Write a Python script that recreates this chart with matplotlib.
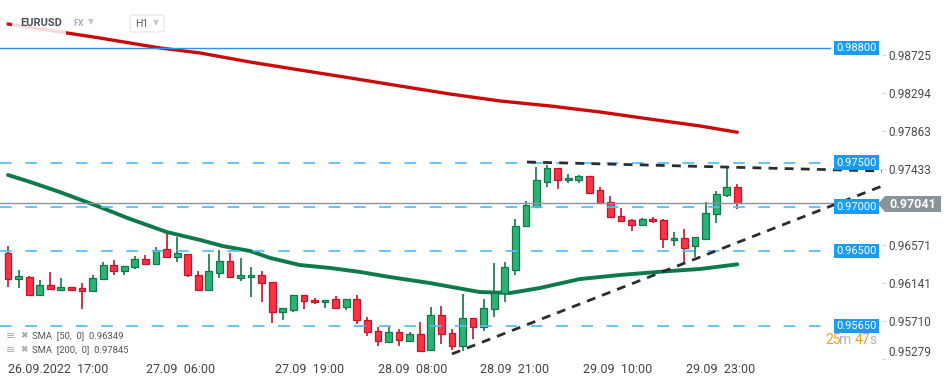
import matplotlib
matplotlib.use('Agg')
import matplotlib.pyplot as plt
import matplotlib.transforms as mtransforms
from matplotlib.patches import Rectangle, Polygon, FancyBboxPatch

plt.rcParams['font.family'] = ['Roboto', 'DejaVu Sans']

# EURUSD H1 candles
opens = [.96474, .96186, .96209, .95998, .96111, .96061, .96088, .96081, .96050, .96186,
         .96341, .96277, .96315, .96406, .96349, .96519, .96428, .96462, .96231, .96061,
         .96254, .96383, .96197, .96202, .96224, .96145, .95805, .95828, .95998, .95941,
         .95919, .95953, .95862, .95953, .95715, .95590, .95474, .95579, .95483, .95556,
         .95381, .95771, .95567, .95427, .95737, .95642, .95839, .96027, .96288, .96780,
         .97002, .97285, .97437, .97301, .97301, .97346, .97188, .97052, .96896, .96851,
         .96791, .96859, .96851, .96621, .96644, .96553, .96632, .96916, .97131, .97222]
highs = [.96556, .96285, .96215, .96171, .96262, .96194, .96092, .96134, .96224, .96375,
         .96398, .96330, .96443, .96451, .96542, .96692, .96662, .96466, .96277, .96466,
         .96511, .96474, .96420, .96315, .96270, .96145, .95851, .95998, .95998, .95964,
         .95941, .95987, .95953, .95998, .95749, .95635, .95635, .95613, .95582, .95692,
         .95865, .95880, .95613, .96009, .95737, .95956, .96360, .96372, .96862, .97066,
         .97455, .97474, .97440, .97372, .97364, .97346, .97225, .97123, .96984, .96859,
         .96870, .96882, .96859, .96712, .96746, .96655, .97052, .97176, .97444, .97256]
lows = [.96095, .96081, .95995, .95995, .96066, .96050, .96043, .95839, .96048, .96179,
        .96228, .96231, .96299, .96347, .96347, .96426, .96375, .96209, .96058, .96058,
        .96197, .96205, .96163, .95982, .95925, .95687, .95718, .95805, .95846, .95896,
        .95857, .95846, .95835, .95676, .95540, .95423, .95472, .95427, .95483, .95355,
        .95378, .95449, .95375, .95370, .95499, .95593, .95755, .95922, .96231, .96780,
        .97002, .97228, .97206, .97274, .97274, .97160, .97040, .96882, .96836, .96730,
        .96791, .96820, .96537, .96560, .96349, .96435, .96632, .96820, .97108, .96979]
closes = [.96179, .96217, .95998, .96111, .96073, .96092, .96061, .96050, .96190, .96341,
          .96277, .96326, .96406, .96349, .96508, .96428, .96474, .96224, .96061, .96270,
          .96383, .96209, .96224, .96224, .96134, .95805, .95851, .95998, .95930, .95919,
          .95941, .95857, .95953, .95715, .95579, .95477, .95579, .95495, .95556, .95367,
          .95771, .95556, .95427, .95737, .95642, .95851, .96020, .96315, .96780, .97018,
          .97301, .97437, .97301, .97324, .97346, .97160, .97040, .96882, .96836, .96791,
          .96859, .96836, .96632, .96644, .96537, .96655, .96927, .97142, .97222, .97041]

# moving averages (candle index, value)
sma50_x = [0, 2.1, 4.9, 8.7, 11.3, 15.0, 18.2, 20.3, 22.9, 24.8, 27.6, 30.5, 33.3, 36.1,
           39.9, 44.6, 47.5, 50.3, 54.1, 57.9, 62.6, 65.5, 69]
sma50_y = [.97361, .97282, .97168, .96998, .96874, .96715, .96624, .96556, .96500, .96421,
           .96341, .96307, .96262, .96205, .96137, .96035, .96024, .96080, .96182, .96228,
           .96273, .96296, .96349]
sma200_x = [0, 5.6, 8.7, 14.4, 18.2, 22.9, 27.6, 32.4, 37.1, 41.8, 46.6, 51.3, 56.0, 60.7, 65.5, 69]
sma200_y = [.99072, .98970, .98913, .98800, .98743, .98641, .98551, .98460, .98369, .98279,
            .98199, .98143, .98075, .97995, .97916, .97845]

# drawn levels and trend lines
levels_dashed = [0.975, 0.970, 0.965, 0.9565]
level_solid = 0.988
last_price = 0.97041
trend_low_x, trend_low_y = [42.0, 82.7], [0.95333, 0.97236]
trend_high_x, trend_high_y = [49.1, 82.7], [0.97508, 0.97406]

ytick_vals = [0.98725, 0.98294, 0.97863, 0.97433, 0.96571, 0.96141, 0.95710, 0.95279]
xtick_pos = [0, 13.06, 25.26, 35.0, 44.65, 54.4, 64.14]
xtick_labels = ['26.09.2022  17:00', '27.09  06:00', '27.09  19:00', '28.09  08:00',
                '28.09  21:00', '29.09  10:00', '29.09  23:00']

W, H = 949, 384
fig = plt.figure(figsize=(W / 100, H / 100), dpi=100)
ax = fig.add_axes([0, (H - 362) / H, 882 / W, 362 / H])
ax.set_xlim(-0.757, 82.687)
ax.set_ylim(0.952419, 0.993439)
for s in ax.spines.values():
    s.set_visible(False)


def fx(px):
    return px / W


def fy(py):
    return 1 - py / H


# SMA lines
ax.plot(sma200_x, sma200_y, color='#cc0a0a', lw=2.4, zorder=2, solid_capstyle='round')
ax.plot(sma50_x, sma50_y, color='#0e7a4b', lw=2.8, zorder=2, solid_capstyle='round')

# candles
RED_F, RED_E = '#fd3345', '#c0162c'
GRN_F, GRN_E = '#2bb374', '#137648'
xs = list(range(len(opens)))
for i in xs:
    up = closes[i] >= opens[i]
    ec = GRN_E if up else RED_E
    fc = GRN_F if up else RED_F
    ax.vlines(i, lows[i], highs[i], color=ec, lw=1.2, zorder=3)
    lo = min(opens[i], closes[i])
    hgt = max(abs(closes[i] - opens[i]), 0.00002)
    ax.bar(i, hgt, bottom=lo, width=0.64, color=fc, edgecolor=ec, linewidth=0.9, zorder=4)

# horizontal levels
ax.axhline(level_solid, xmax=830 / 882, color='#2196f3', lw=1.0, zorder=5)
for lv in levels_dashed:
    ax.axhline(lv, xmax=830 / 882, color='#4fc0f6', lw=1.4, dashes=(6, 7), alpha=0.9, zorder=5)
ax.axhline(last_price, color='#8b9499', lw=1.0, zorder=5)

# trend lines
ax.plot(trend_low_x, trend_low_y, color='#2a2e33', lw=2.0, dashes=(3.2, 2.6), zorder=6)
ax.plot(trend_high_x, trend_high_y, color='#2a2e33', lw=2.0, dashes=(3.2, 2.6), zorder=6)

# level labels
trans = mtransforms.blended_transform_factory(ax.transAxes, ax.transData)
for lv in [level_solid] + levels_dashed:
    ax.text(836 / 882, lv, '%.5f' % lv, transform=trans, ha='left', va='center',
            color='white', fontsize=8, zorder=8,
            bbox=dict(boxstyle='square,pad=0.22', fc='#1a9cf2', ec='none'))

# axes ticks
ax.yaxis.tick_right()
ax.set_yticks(ytick_vals)
ax.set_yticklabels(['%.5f' % v for v in ytick_vals])
ax.tick_params(axis='y', length=3, color='#d5d5d5', labelcolor='#4a4a4a', labelsize=8.5, pad=1.5)
ax.get_yticklabels()[-1].set_va('bottom')
ax.set_xticks(xtick_pos)
ax.set_xticklabels(xtick_labels, ha='left')
ax.tick_params(axis='x', length=0, labelcolor='#444444', labelsize=9, pad=1)

# last price tag
fig.patches.append(Polygon([[fx(878), fy(204)], [fx(885), fy(196)], [fx(941), fy(196)],
                            [fx(941), fy(212)], [fx(885), fy(212)]],
                           closed=True, fc='#8a9398', ec='none', transform=fig.transFigure))
fig.text(fx(913), fy(204), '%.5f' % last_price, color='white', fontsize=9, weight='bold',
         ha='center', va='center')

# header
fig.patches.append(Rectangle((fx(12), fy(36)), fx(54), 24 / H, fc='white', alpha=0.85,
                             ec='none', transform=fig.transFigure, zorder=3))
fig.text(fx(20), fy(23), 'EURUSD', fontsize=8, weight='bold', color='#4b5157', va='center')
fig.text(fx(73), fy(24), 'FX', fontsize=6.5, weight='bold', color='#a8b0b8', va='center')
fig.text(fx(88), fy(22), '\u25bc', fontsize=5.5, color='#c5c9cd', va='center')
fig.patches.append(FancyBboxPatch((fx(130), fy(32)), fx(34), 17 / H,
                                  boxstyle='round,pad=0,rounding_size=0.004',
                                  fc='white', ec='#e2e4e6', lw=0.8, transform=fig.transFigure))
fig.text(fx(135), fy(24), 'H1', fontsize=7.5, color='#555b61', va='center')
fig.text(fx(153), fy(23), '\u25bc', fontsize=5.5, color='#c5c9cd', va='center')

# legend
for row, txt in [(336, 'SMA  [50,  0]  0.96349'), (350, 'SMA  [200,  0]  0.97845')]:
    fig.text(fx(6), fy(row), '\u2261', fontsize=8, color='#a5a9ad', va='center')
    fig.text(fx(20), fy(row), '\u2716', fontsize=6.5, color='#a5a9ad', va='center')
    fig.text(fx(32), fy(row), txt, fontsize=6.8, color='#555555', va='center')

# candle countdown
fig.text(fx(825), fy(340), '25', fontsize=10, color='#f5a01a', va='center')
fig.text(fx(839), fy(340), 'm', fontsize=10, color='#b5b5b5', va='center')
fig.text(fx(855), fy(340), '47', fontsize=10, color='#f5a01a', va='center')
fig.text(fx(869), fy(340), 's', fontsize=10, color='#b5b5b5', va='center')

fig.savefig('out.png', dpi=100, facecolor='white')
